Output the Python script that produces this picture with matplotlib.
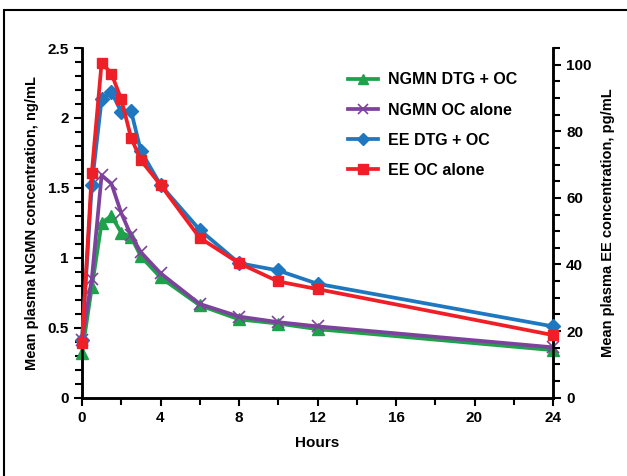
import matplotlib.pyplot as plt
from matplotlib.patches import Rectangle
from matplotlib.ticker import MultipleLocator, FormatStrFormatter

plt.rcParams['font.family'] = ['Liberation Sans', 'DejaVu Sans']
plt.rcParams['font.weight'] = 'bold'

hours = [0, 0.5, 1, 1.5, 2, 2.5, 3, 4, 6, 8, 10, 12, 24]

# left axis, ng/mL
ngmn_dtg = [0.32, 0.79, 1.25, 1.30, 1.18, 1.15, 1.01, 0.86, 0.66, 0.56, 0.53, 0.49, 0.34]
ngmn_oc = [0.41, 0.85, 1.59, 1.53, 1.32, 1.16, 1.04, 0.89, 0.67, 0.58, 0.54, 0.51, 0.36]
# right axis, pg/mL
ee_dtg = [17.2, 63.9, 89.6, 91.8, 85.8, 86.1, 74.1, 63.9, 50.4, 40.4, 38.2, 34.2, 21.4]
ee_oc = [16.5, 67.6, 100.6, 97.3, 89.6, 78.1, 71.3, 63.9, 48.0, 40.4, 34.9, 32.6, 18.8]

green = '#1fa04b'
purple = '#7d439c'
blue = '#1f77c0'
red = '#ee1f26'

fig = plt.figure(figsize=(6.27, 4.76), dpi=100)
ax = fig.add_axes([82/627, 1-397.7/476, 471/627, 349.7/476])
ax2 = ax.twinx()

l1, = ax.plot(hours, ngmn_dtg, color=green, lw=2.7, marker='^', ms=8, label='NGMN DTG + OC',
              zorder=3, clip_on=False)
l2, = ax.plot(hours, ngmn_oc, color=purple, lw=2.7, marker='x', ms=8, mew=1.2, label='NGMN OC alone',
              zorder=4, clip_on=False)
l3, = ax2.plot(hours, ee_dtg, color=blue, lw=2.7, marker='D', ms=7, label='EE DTG + OC',
               zorder=3, clip_on=False)
l4, = ax2.plot(hours, ee_oc, color=red, lw=2.7, marker='s', ms=7.5, label='EE OC alone',
               zorder=4, clip_on=False)

ax.set_xlim(0, 24)
ax.set_ylim(0, 2.5)
ax2.set_ylim(0, 105)
ax.set_xticks([0, 4, 8, 12, 16, 20, 24])
ax.xaxis.set_minor_locator(MultipleLocator(2))
ax.yaxis.set_major_locator(MultipleLocator(0.5))
ax.yaxis.set_minor_locator(MultipleLocator(0.1))
ax.yaxis.set_major_formatter(FormatStrFormatter('%g'))
ax2.set_yticks([0, 20, 40, 60, 80, 100])
ax2.yaxis.set_minor_locator(MultipleLocator(5))

for a in (ax, ax2):
    a.tick_params(which='major', length=6, width=1.5, labelsize=11, direction='out')
    a.tick_params(which='minor', length=5, width=1.5, direction='out')
    for s in a.spines.values():
        s.set_linewidth(1.8)
    a.spines['top'].set_visible(False)

ax.set_xlabel('Hours', fontsize=11, fontweight='bold', labelpad=8)
ax.set_ylabel('Mean plasma NGMN concentration, ng/mL', fontsize=10.5, fontweight='bold', labelpad=6)
ax2.set_ylabel('Mean plasma EE concentration, pg/mL', fontsize=10.5, fontweight='bold', labelpad=7)

ax.legend(handles=[l1, l2, l3, l4], loc='upper left', bbox_to_anchor=(0.565, 0.93),
          frameon=False, handlelength=1.9, handletextpad=0.6, labelspacing=0.95,
          borderpad=0, borderaxespad=0,
          prop={'weight': 'bold', 'size': 11.5}, markerscale=0.9)

fig.patches.append(Rectangle((4/627, -0.1), 1.1, 1.1 - 10/476, transform=fig.transFigure,
                             fill=False, edgecolor='black', lw=1.5))

fig.savefig('out.png', dpi=100)
